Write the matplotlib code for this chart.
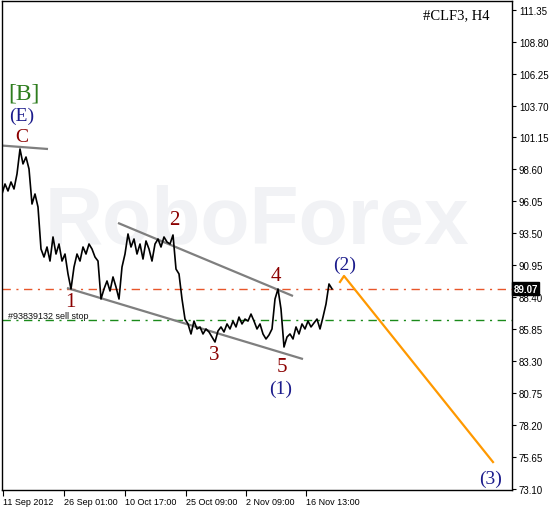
import matplotlib
matplotlib.use("Agg")
import matplotlib.pyplot as plt
import numpy as np

# ---- data ----
price_idx = list(range(0, 331, 3))
price = [96.64, 97.44, 96.88, 97.60, 97.04, 98.24, 100.23, 99.04, 99.59, 98.64,
         95.84, 96.64, 95.60, 92.25, 91.61, 92.41, 91.29, 93.21, 91.85, 92.65,
         91.29, 91.85, 90.26, 89.06, 90.81, 91.85, 91.29, 92.41, 91.85, 92.65,
         92.25, 91.61, 91.29, 88.26, 89.06, 89.70, 88.90, 90.02, 89.22, 88.26,
         90.81, 91.85, 93.45, 92.41, 93.05, 91.85, 92.65, 91.45, 92.89, 92.25,
         91.29, 92.65, 93.05, 92.41, 93.21, 92.81, 92.65, 93.37, 90.65, 90.26,
         88.26, 86.66, 86.27, 85.47, 86.50, 85.87, 86.03, 85.47, 85.87, 85.63,
         85.23, 84.83, 85.71, 86.03, 85.63, 86.27, 85.87, 86.50, 86.03, 86.82,
         86.27, 86.66, 86.50, 87.06, 86.50, 85.87, 86.27, 85.47, 85.07, 85.39,
         85.87, 88.26, 89.06, 87.46, 84.43, 85.23, 85.47, 85.07, 86.03, 85.47,
         86.27, 85.87, 86.50, 86.03, 86.35, 86.66, 85.87, 86.82, 87.86, 89.46,
         89.07]

c_line_x = [0.7, 46]
c_line_y = [100.50, 100.23]
lower_x = [65, 301]
lower_y = [89.14, 83.47]
upper_x = [116, 291]
upper_y = [94.33, 88.50]
fore_x = [338, 342, 491]
fore_y = [89.62, 90.10, 75.25]

last_price = 89.07
sell_stop = 86.58

yticks = [73.10, 75.65, 78.20, 80.75, 83.30, 85.85, 88.40, 90.95, 93.50,
          96.05, 98.60, 101.15, 103.70, 106.25, 108.80, 111.35]
xtick_pos = [1, 62, 123, 184, 244, 304]
xtick_labels = ["11 Sep 2012", "26 Sep 01:00", "10 Oct 17:00", "25 Oct 09:00",
                "2 Nov 09:00", "16 Nov 13:00"]

# wave labels: (text, x, y, color, size)
waves = [
    ("[B]", 22, 104.70, "#2e7d1e", 17),
    ("(E)", 20, 102.95, "#1c1c8c", 14),
    ("C", 20, 101.19, "#8b0000", 14),
    ("1", 68, 88.1, "#8b0000", 15),
    ("2", 172, 94.6, "#8b0000", 15),
    ("3", 212, 83.8, "#8b0000", 15),
    ("4", 274, 90.1, "#8b0000", 15),
    ("5", 280, 82.85, "#8b0000", 15),
    ("(1)", 279, 81.1, "#1c1c8c", 14),
    ("(2)", 343, 91.0, "#1c1c8c", 14),
    ("(3)", 489, 73.95, "#1c1c8c", 14),
]

W, H = 552, 510
fig = plt.figure(figsize=(W / 100, H / 100), dpi=100)
ax = fig.add_axes([2 / W, (H - 491) / H, 510 / W, 489 / H])
ax.set_xlim(0, 510)
ax.set_ylim(73.02, 112.04)

# watermark
ax.text(255, 94.4, "RoboForex", fontsize=58, fontweight="bold", color="#f1f2f5",
        ha="center", va="center", family="Liberation Sans", zorder=0)

# horizontal order lines
ax.axhline(last_price, color="#e8562a", lw=1.0, dashes=(6, 4, 1.5, 4), zorder=1)
ax.axhline(sell_stop, color="#1a8a1a", lw=1.0, dashes=(6, 4, 1.5, 4), zorder=1)

# channel lines
for xs, ys in [(c_line_x, c_line_y), (lower_x, lower_y), (upper_x, upper_y)]:
    ax.plot(xs, ys, color="#7f7f7f", lw=1.6, solid_capstyle="butt", zorder=2)

ax.plot(fore_x, fore_y, color="#ff9900", lw=1.6, zorder=2)

ax.plot(price_idx, price, color="black", lw=1.2, zorder=3)

for t, x, y, c, s in waves:
    ax.text(x, y, t, color=c, fontsize=s, family="Liberation Serif",
            ha="center", va="center", zorder=4)

ax.text(6, 86.95, "#93839132 sell stop", fontsize=6.5, family="Liberation Sans",
        color="#101010", ha="left", va="center", zorder=4)

ax.text(0.955, 0.985, "#CLF3, H4", transform=ax.transAxes, fontsize=10.5,
        family="Liberation Serif", ha="right", va="top", color="black")

# axes styling
for s in ax.spines.values():
    s.set_linewidth(1.0)
    s.set_color("black")

ax.yaxis.tick_right()
ax.set_yticks(yticks)
ax.set_yticklabels([f"{v:.2f}" for v in yticks])
ax.tick_params(axis="y", direction="out", length=3, width=0.8, pad=2,
               labelsize=7)
for lab in ax.get_yticklabels():
    lab.set_family("Liberation Sans")

ax.set_xticks(xtick_pos)
ax.set_xticklabels(xtick_labels)
ax.tick_params(axis="x", direction="out", length=4, width=0.8, pad=1,
               labelsize=6.5)
for lab in ax.get_xticklabels():
    lab.set_family("Liberation Sans")
    lab.set_horizontalalignment("left")

# last price box on right axis
ax.text(1.003, (last_price - 73.02) / (112.04 - 73.02), f"{last_price:.2f}",
        transform=ax.transAxes, fontsize=7, family="Liberation Sans",
        color="white", ha="left", va="center", fontweight="bold",
        bbox=dict(boxstyle="square,pad=0.15", fc="black", ec="black"),
        zorder=10, clip_on=False)

fig.savefig("out.png", dpi=100)
